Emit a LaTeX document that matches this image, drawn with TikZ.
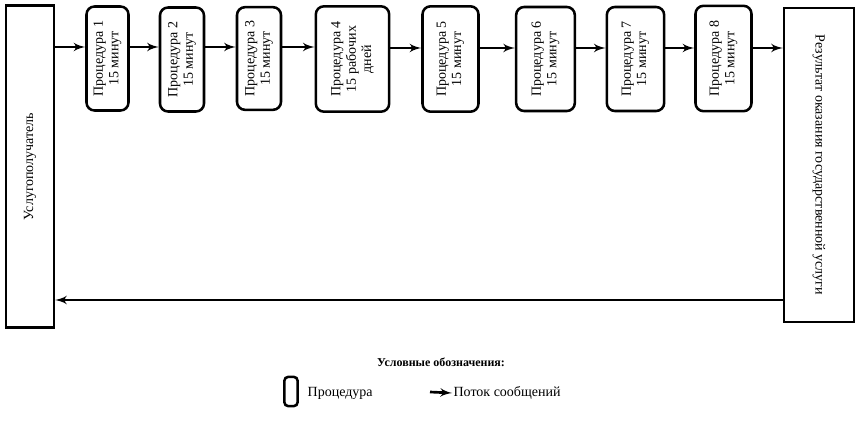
\documentclass[tikz,border=0pt]{standalone}
\usepackage{fontspec}
\setmainfont{Liberation Serif}
\usetikzlibrary{arrows}
\tikzset{
    proc/.style = {draw, line width=1.9pt, rounded corners=6pt, rotate=90, align=center, font=\fontsize{10.5}{11.5}\selectfont},
    side/.style = {draw, line width=1.8pt, align=center, font=\fontsize{10.5}{11.5}\selectfont},
    line/.style = {draw, line width=2pt, -latex'}
}
\begin{document}
\begin{tikzpicture}[x=0.75pt, y=-0.75pt]
\useasboundingbox (0,0) rectangle (858,424);
% Place nodes
\node [side, rotate=90, minimum width=241.5pt, minimum height=36pt] (client) at (30,166.5) {Услугополучатель};
\node [side, rotate=-90, minimum width=235.5pt, minimum height=52.5pt] (result) at (819,165) {Результат оказания государственной услуги};
\node [proc, minimum width=78pt, minimum height=31.5pt] (p1) at (107.5,58.5) {Процедура 1\\15 минут};
\node [proc, minimum width=78pt, minimum height=33pt] (p2) at (182,59.5) {Процедура 2\\15 минут};
\node [proc, minimum width=77pt, minimum height=33pt] (p3) at (259,58.5) {Процедура 3\\15 минут};
\node [proc, minimum width=79pt, minimum height=55pt] (p4) at (352.5,59) {Процедура 4\\15 рабочих\\дней};
\node [proc, minimum width=79pt, minimum height=42pt] (p5) at (450.5,59) {Процедура 5\\15 минут};
\node [proc, minimum width=78pt, minimum height=44pt] (p6) at (545.5,59) {Процедура 6\\15 минут};
\node [proc, minimum width=78pt, minimum height=43pt] (p7) at (635.5,59) {Процедура 7\\15 минут};
\node [proc, minimum width=79pt, minimum height=42pt] (p8) at (723.5,58.5) {Процедура 8\\15 минут};
% Draw edges
\path [line] (client.south |- 0,47) -- (p1.north |- 0,47);
\path [line] (p1.south |- 0,47) -- (p2.north |- 0,47);
\path [line] (p2.south |- 0,47) -- (p3.north |- 0,47);
\path [line] (p3.south |- 0,47) -- (p4.north |- 0,47);
\path [line] (p4.south |- 0,48) -- (p5.north |- 0,48);
\path [line] (p5.south |- 0,48) -- (p6.north |- 0,48);
\path [line] (p6.south |- 0,48) -- (p7.north |- 0,48);
\path [line] (p7.south |- 0,48) -- (p8.north |- 0,48);
\path [line] (p8.south |- 0,48) -- (result.south |- 0,48);
\path [line] (result.south |- 0,300) -- (client.south |- 0,300);
% Legend
\node [font=\fontsize{9}{10}\selectfont\bfseries] (legend) at (441,362) {Условные обозначения:};
\node [draw, line width=1.9pt, rounded corners=3pt, minimum width=10pt, minimum height=22pt] (keyproc) at (291,391.5) {};
\node [anchor=west, font=\fontsize{10.5}{11.5}\selectfont] (keyproctext) at (303,393) {Процедура};
\coordinate (keyfrom) at (430,392);
\node [anchor=west, inner sep=1pt, font=\fontsize{10.5}{11.5}\selectfont] (keyflow) at (452,393) {Поток сообщений};
\path [line] (keyfrom) -- (keyflow.west);
\end{tikzpicture}
\end{document}
